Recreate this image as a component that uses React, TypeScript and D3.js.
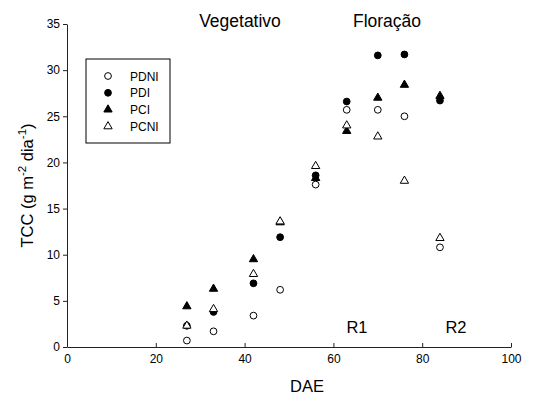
import { useEffect, useRef } from 'react';
import * as d3 from 'd3';

const days = [27, 33, 42, 48, 56, 63, 70, 76, 84];
const pdni = [0.7, 1.7, 3.4, 6.2, 17.6, 25.7, 25.7, 25.0, 10.8];
const pdi = [2.3, 3.8, 6.9, 11.9, 18.6, 26.6, 31.6, 31.7, 26.7];
const pci = [4.4, 6.3, 9.5, 13.5, 18.3, 23.4, 27.0, 28.4, 27.2];
const pcni = [2.3, 4.1, 7.9, 13.6, 19.6, 24.0, 22.8, 18.0, 11.8];

const xTicks = [0, 20, 40, 60, 80, 100];
const yTicks = [0, 5, 10, 15, 20, 25, 30, 35];

type Shape = 'circle' | 'triangle';
const series: { name: string; values: number[]; shape: Shape; filled: boolean }[] = [
  { name: 'PDNI', values: pdni, shape: 'circle', filled: false },
  { name: 'PDI', values: pdi, shape: 'circle', filled: true },
  { name: 'PCI', values: pci, shape: 'triangle', filled: true },
  { name: 'PCNI', values: pcni, shape: 'triangle', filled: false },
];

const FONT = 'Liberation Sans, Arial, sans-serif';

export default function App() {
  const svgRef = useRef<SVGSVGElement>(null);

  useEffect(() => {
    if (!svgRef.current) return;
    const svg = d3.select(svgRef.current);
    svg.selectAll('*').remove();

    const x = d3.scaleLinear().domain([0, 100]).range([67, 511]);
    const y = d3.scaleLinear().domain([0, 35]).range([347, 24]);

    // y axis, ticks outward
    svg.append('g')
      .attr('transform', `translate(${x(0)},0)`)
      .call(d3.axisLeft(y).tickValues(yTicks).tickSize(4).tickSizeOuter(0).tickPadding(3))
      .call(g => g.select('.domain').attr('stroke', '#222'))
      .call(g => g.selectAll('.tick line').attr('stroke', '#222'))
      .call(g => g.selectAll('.tick text').attr('font-size', 12).attr('font-family', FONT).attr('fill', '#000'));

    // x axis, ticks pointing up into the plot
    svg.append('g')
      .attr('transform', `translate(0,${y(0)})`)
      .call(d3.axisBottom(x).tickValues(xTicks).tickSizeInner(-4).tickSizeOuter(0).tickPadding(7))
      .call(g => g.select('.domain').attr('stroke', '#222'))
      .call(g => g.selectAll('.tick line').attr('stroke', '#222'))
      .call(g => g.selectAll('.tick text').attr('font-size', 12).attr('font-family', FONT).attr('fill', '#000'));

    const circle = d3.symbol().type(d3.symbolCircle).size(36);
    const tri = d3.symbol().type(d3.symbolTriangle).size(30);

    const drawMarker = (sel: d3.Selection<SVGPathElement, any, any, any>, s: typeof series[number]) =>
      sel.attr('d', s.shape === 'circle' ? circle() : tri())
        .attr('fill', s.filled ? '#000' : '#fff')
        .attr('stroke', '#000')
        .attr('stroke-width', 1);

    series.forEach(s => {
      const pts = days.map((d, i) => ({ d, v: s.values[i] }));
      svg.append('g').selectAll('path')
        .data(pts).join('path')
        .attr('transform', p => `translate(${x(p.d)},${y(p.v)})`)
        .call(sel => drawMarker(sel as any, s));
    });

    // legend
    const legend = svg.append('g');
    legend.append('rect')
      .attr('x', 86).attr('y', 59).attr('width', 84).attr('height', 84)
      .attr('fill', '#fff').attr('stroke', '#000').attr('stroke-width', 1);
    series.forEach((s, i) => {
      const ly = 76 + i * 16.8;
      legend.append('path')
        .attr('transform', `translate(108,${ly})`)
        .call(sel => drawMarker(sel as any, s));
      legend.append('text')
        .attr('x', 130).attr('y', ly + 4.5)
        .attr('font-size', 12).attr('font-family', FONT)
        .text(s.name);
    });

    const label = (txt: string, lx: number, ly: number, size: number) =>
      svg.append('text')
        .attr('x', lx).attr('y', ly)
        .attr('text-anchor', 'middle')
        .attr('font-size', size).attr('font-family', FONT)
        .text(txt);

    label('Vegetativo', 240, 27, 17.5);
    label('Floração', 387, 27, 17.5);
    label('R1', 357, 333, 16.5);
    label('R2', 456, 333, 16.5);
    label('DAE', 307, 392, 16.5);

    const yl = svg.append('text')
      .attr('transform', `translate(33,${(y(0) + y(35)) / 2}) rotate(-90)`)
      .attr('text-anchor', 'middle')
      .attr('font-size', 16.5).attr('font-family', FONT);
    yl.append('tspan').text('TCC (g m');
    yl.append('tspan').attr('font-size', 11.5).attr('dy', -7).text('-2');
    yl.append('tspan').attr('dy', 7).text(' dia');
    yl.append('tspan').attr('font-size', 11.5).attr('dy', -7).text('-1');
    yl.append('tspan').attr('dy', 7).text(')');
  }, []);

  return (
    <div style={{ position: 'absolute', left: 0, top: 0, background: '#fff' }}>
      <svg ref={svgRef} width={543} height={398} style={{ display: 'block' }} />
    </div>
  );
}
